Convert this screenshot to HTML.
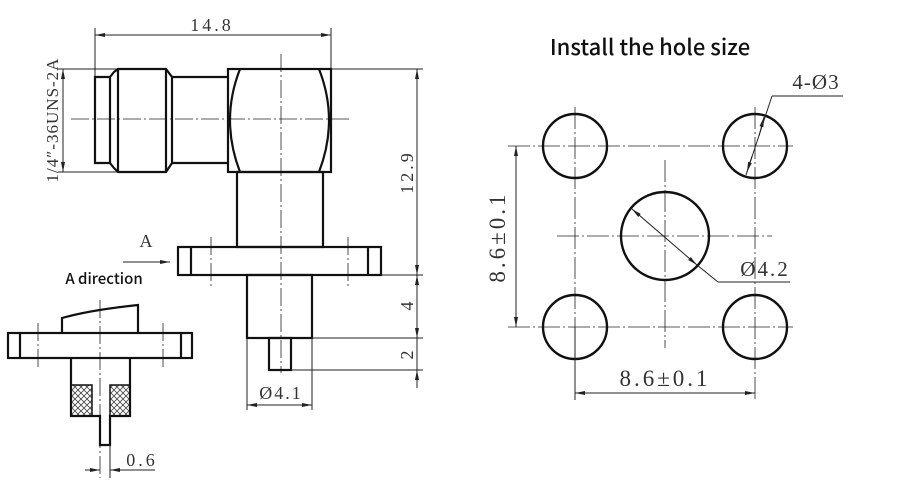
<!DOCTYPE html>
<html><head><meta charset="utf-8"><style>
html,body{margin:0;padding:0;background:#fff;}
svg{display:block;}
.t{font-family:"Liberation Serif","DejaVu Serif",serif;fill:#333;}
.s{font-family:"Noto Sans CJK SC","Liberation Sans",sans-serif;fill:#111;font-weight:500;}
</style></head><body>
<svg width="903" height="499" viewBox="0 0 903 499" xmlns="http://www.w3.org/2000/svg">
<defs>
<marker id="a" viewBox="0 0 10 6" refX="10" refY="3" markerWidth="10" markerHeight="6" orient="auto-start-reverse" markerUnits="userSpaceOnUse"><path d="M0,1 L10,3 L0,5z" fill="#222"/></marker>
<pattern id="h" width="6" height="6" patternUnits="userSpaceOnUse"><path d="M0,0L6,6M6,0L0,6" stroke="#444" stroke-width="0.8"/></pattern>
</defs>
<g stroke="#222" fill="none" stroke-width="1">
<line x1="95" y1="28" x2="95" y2="80"/><line x1="331" y1="28" x2="331" y2="69"/>
<line x1="95" y1="35" x2="331" y2="35" marker-start="url(#a)" marker-end="url(#a)"/>
<line x1="58" y1="69" x2="118" y2="69"/><line x1="58" y1="172" x2="118" y2="172"/>
<line x1="63" y1="69" x2="63" y2="172" marker-start="url(#a)" marker-end="url(#a)"/>
<g stroke-width="0.8" stroke-dasharray="18,3,2,3">
<line x1="71" y1="119" x2="350" y2="119"/><line x1="281" y1="54" x2="281" y2="373"/>
<line x1="211" y1="237" x2="211" y2="288"/><line x1="348" y1="237" x2="348" y2="288"/>
<line x1="100" y1="300" x2="100" y2="478"/>
<line x1="38" y1="323" x2="38" y2="370"/><line x1="163" y1="323" x2="163" y2="370"/>
</g>
</g>
<g stroke="#111" fill="none" stroke-width="2.2">
<path d="M110,77 L95,77 L95,163 L110,163"/>
<path d="M110,77 L114,72 L118,69 L166,69 L172,77 L172,163 L166,172 L118,172 L114,168 L110,163 Z"/>
<line x1="118" y1="69" x2="118" y2="172"/><line x1="166" y1="69" x2="166" y2="172"/>
<path d="M172,77 L228,77 M172,163 L228,163"/>
<rect x="228" y="69" width="103" height="103"/>
<path d="M240,69 Q220,120 240,172 M319,69 Q339,120 319,172"/>
<rect x="237" y="172" width="86" height="75"/>
<rect x="178" y="247" width="203" height="28"/>
<line x1="191" y1="247" x2="191" y2="275"/><line x1="368" y1="247" x2="368" y2="275"/>
<rect x="247" y="275" width="65" height="63"/>
<rect x="269" y="338" width="22" height="32"/>
<path d="M62,333 L62,318 Q90,310 138,305 L138,333"/>
<rect x="8" y="333" width="184" height="25"/>
<line x1="20" y1="333" x2="20" y2="358"/><line x1="181" y1="333" x2="181" y2="358"/>
<path d="M71,358 L71,416 L100,416 L100,445 L110,445 L110,416 L130,416 L130,358"/>
</g>
<rect x="72" y="385" width="20" height="30" fill="url(#h)"/>
<rect x="110" y="385" width="19" height="30" fill="url(#h)"/>
<g stroke="#111" fill="none" stroke-width="1.5">
<path d="M72,385 L92,385 L92,416 M110,416 L110,385 L130,385"/>
</g>
<g stroke="#222" fill="none" stroke-width="1">
<line x1="331" y1="69" x2="423" y2="69"/><line x1="381" y1="275" x2="423" y2="275"/>
<line x1="312" y1="338" x2="423" y2="338"/><line x1="291" y1="370" x2="423" y2="370"/>
<line x1="417" y1="69" x2="417" y2="275" marker-start="url(#a)" marker-end="url(#a)"/>
<line x1="417" y1="275" x2="417" y2="338" marker-start="url(#a)" marker-end="url(#a)"/>
<line x1="417" y1="338" x2="417" y2="388"/>
<line x1="417" y1="378" x2="417" y2="370" marker-end="url(#a)"/>
<line x1="247" y1="338" x2="247" y2="410"/><line x1="312" y1="338" x2="312" y2="410"/>
<line x1="247" y1="405" x2="312" y2="405" marker-start="url(#a)" marker-end="url(#a)"/>
<line x1="123" y1="262" x2="170" y2="262" marker-end="url(#a)"/>
<line x1="110" y1="445" x2="110" y2="478"/>
<line x1="85" y1="470" x2="100" y2="470" marker-end="url(#a)"/>
<line x1="155" y1="470" x2="110" y2="470" marker-end="url(#a)"/>
</g>
<text class="t" x="212" y="31" text-anchor="middle" style="font-size:18px;letter-spacing:3px">14.8</text>
<text class="t" transform="translate(58,120) rotate(-90)" text-anchor="middle" style="font-size:17px;letter-spacing:1px">1/4″-36UNS-2A</text>
<text class="t" transform="translate(413,172) rotate(-90)" text-anchor="middle" style="font-size:18px;letter-spacing:3px">12.9</text>
<text class="t" transform="translate(413,306) rotate(-90)" text-anchor="middle" style="font-size:18px">4</text>
<text class="t" transform="translate(413,355) rotate(-90)" text-anchor="middle" style="font-size:18px">2</text>
<text class="t" x="281" y="399" text-anchor="middle" style="font-size:18px;letter-spacing:2px">Ø4.1</text>
<text class="t" x="146" y="247" text-anchor="middle" style="font-size:18px">A</text>
<text class="t" x="142" y="466" text-anchor="middle" style="font-size:18px;letter-spacing:3px">0.6</text>
<text class="s" x="104" y="284" text-anchor="middle" style="font-size:15px">A direction</text>
<text class="s" x="650" y="55" text-anchor="middle" style="font-size:22px">Install the hole size</text>
<g stroke="#222" fill="none" stroke-width="0.8" stroke-dasharray="22,3,2,3">
<line x1="508" y1="146" x2="793" y2="146"/><line x1="508" y1="327" x2="793" y2="327"/>
<line x1="575" y1="107" x2="575" y2="400"/><line x1="755" y1="107" x2="755" y2="400"/>
<line x1="665" y1="160" x2="665" y2="348"/><line x1="557" y1="236" x2="772" y2="236"/>
</g>
<g stroke="#111" fill="none" stroke-width="2.4">
<circle cx="575" cy="146" r="32"/><circle cx="755" cy="146" r="32"/>
<circle cx="575" cy="327" r="32"/><circle cx="755" cy="327" r="32"/>
<circle cx="665" cy="236" r="44"/>
</g>
<g stroke="#222" fill="none" stroke-width="1">
<line x1="516" y1="146" x2="516" y2="327" marker-start="url(#a)" marker-end="url(#a)"/>
<line x1="575" y1="393" x2="755" y2="393" marker-start="url(#a)" marker-end="url(#a)"/>
<line x1="575" y1="400" x2="575" y2="327"/>
<line x1="843" y1="96" x2="772" y2="96"/>
<line x1="772" y1="96" x2="746" y2="175"/>
<line x1="759" y1="136" x2="764" y2="117" marker-end="url(#a)"/>
<line x1="752" y1="156" x2="747" y2="172" marker-end="url(#a)"/>
<line x1="632" y1="209" x2="697" y2="265" marker-start="url(#a)" marker-end="url(#a)"/>
<line x1="697" y1="265" x2="718" y2="282"/><line x1="718" y1="282" x2="790" y2="282"/>
</g>
<text class="t" x="816" y="89" text-anchor="middle" style="font-size:21px;letter-spacing:1px">4-Ø3</text>
<text class="t" x="765" y="276" text-anchor="middle" style="font-size:21px;letter-spacing:2px">Ø4.2</text>
<text class="t" x="665" y="386" text-anchor="middle" style="font-size:23px;letter-spacing:3px">8.6±0.1</text>
<text class="t" transform="translate(505,237) rotate(-90)" text-anchor="middle" style="font-size:23px;letter-spacing:3px">8.6±0.1</text>
</svg>
</body></html>
